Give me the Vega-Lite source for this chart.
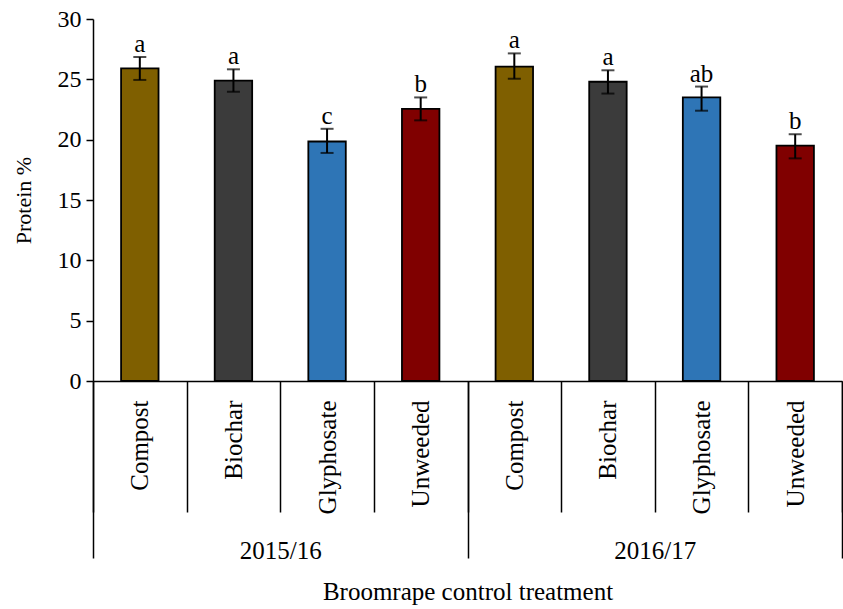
{
  "$schema": "https://vega.github.io/schema/vega-lite/v6.json",
  "width": 749,
  "height": 362,
  "autosize": {"type": "none"},
  "padding": {"left": 93, "top": 19, "right": 1, "bottom": 228},
  "background": "white",
  "config": {
    "font": "Liberation Serif",
    "view": {"stroke": null},
    "text": {"font": "Liberation Serif"},
    "axis": {
      "grid": false,
      "labelFont": "Liberation Serif",
      "titleFont": "Liberation Serif",
      "domainColor": "black",
      "tickColor": "black",
      "labelColor": "black",
      "titleColor": "black",
      "titleFontWeight": "normal",
      "domainWidth": 1.5,
      "tickWidth": 1.5
    }
  },
  "data": {
    "values": [
      {"key": "2015/16|Compost", "year": "2015/16", "treatment": "Compost", "protein": 25.9, "lo": 24.95, "hi": 26.85, "group": "a"},
      {"key": "2015/16|Biochar", "year": "2015/16", "treatment": "Biochar", "protein": 24.9, "lo": 23.97, "hi": 25.83, "group": "a"},
      {"key": "2015/16|Glyphosate", "year": "2015/16", "treatment": "Glyphosate", "protein": 19.85, "lo": 18.9, "hi": 20.9, "group": "c"},
      {"key": "2015/16|Unweeded", "year": "2015/16", "treatment": "Unweeded", "protein": 22.55, "lo": 21.6, "hi": 23.5, "group": "b"},
      {"key": "2016/17|Compost", "year": "2016/17", "treatment": "Compost", "protein": 26.05, "lo": 25.05, "hi": 27.15, "group": "a"},
      {"key": "2016/17|Biochar", "year": "2016/17", "treatment": "Biochar", "protein": 24.8, "lo": 23.82, "hi": 25.75, "group": "a"},
      {"key": "2016/17|Glyphosate", "year": "2016/17", "treatment": "Glyphosate", "protein": 23.5, "lo": 22.4, "hi": 24.4, "group": "ab"},
      {"key": "2016/17|Unweeded", "year": "2016/17", "treatment": "Unweeded", "protein": 19.5, "lo": 18.45, "hi": 20.45, "group": "b"}
    ]
  },
  "layer": [
    {
      "encoding": {
        "x": {
          "field": "key",
          "type": "nominal",
          "sort": null,
          "scale": {"paddingInner": 0, "paddingOuter": 0},
          "axis": {
            "orient": "bottom",
            "title": null,
            "tickBand": "extent",
            "tickSize": 131,
            "labelAngle": -90,
            "labelPadding": -112,
            "labelFontSize": 25,
            "labelExpr": "split(datum.value, '|')[1]"
          }
        }
      },
      "layer": [
        {
          "mark": {"type": "bar", "stroke": "black", "strokeWidth": 1.8, "width": {"band": 0.4}},
          "encoding": {
            "y": {
              "field": "protein",
              "type": "quantitative",
              "scale": {"domain": [0, 30], "nice": false},
              "axis": {
                "title": "Protein %",
                "values": [0, 5, 10, 15, 20, 25, 30],
                "tickSize": 7,
                "labelPadding": 5,
                "labelFontSize": 24,
                "titleFontSize": 22,
                "titlePadding": 22
              }
            },
            "color": {
              "field": "treatment",
              "type": "nominal",
              "scale": {
                "domain": ["Compost", "Biochar", "Glyphosate", "Unweeded"],
                "range": ["#7f5f00", "#3b3b3b", "#2e75b6", "#800000"]
              },
              "legend": null
            }
          }
        },
        {
          "mark": {"type": "rule", "color": "black", "strokeWidth": 2},
          "encoding": {
            "y": {"field": "lo", "type": "quantitative"},
            "y2": {"field": "hi"}
          }
        },
        {
          "mark": {"type": "tick", "color": "black", "size": 13, "thickness": 2},
          "encoding": {"y": {"field": "lo", "type": "quantitative"}}
        },
        {
          "mark": {"type": "tick", "color": "black", "size": 13, "thickness": 2},
          "encoding": {"y": {"field": "hi", "type": "quantitative"}}
        },
        {
          "mark": {"type": "text", "baseline": "alphabetic", "dy": -5, "fontSize": 25, "color": "black", "font": "Liberation Serif"},
          "encoding": {
            "y": {"field": "hi", "type": "quantitative"},
            "text": {"field": "group"}
          }
        }
      ]
    },
    {
      "mark": {"type": "rect", "fillOpacity": 0, "strokeOpacity": 0},
      "encoding": {
        "x": {
          "field": "year",
          "type": "nominal",
          "sort": null,
          "scale": {"paddingInner": 0, "paddingOuter": 0},
          "axis": {
            "orient": "bottom",
            "domain": false,
            "tickBand": "extent",
            "tickSize": 177,
            "labelAngle": 0,
            "labelPadding": -20,
            "labelFontSize": 25,
            "title": "Broomrape control treatment",
            "titleFontSize": 25,
            "titlePadding": 16
          }
        }
      }
    }
  ],
  "resolve": {"scale": {"x": "independent"}, "axis": {"x": "independent"}}
}
